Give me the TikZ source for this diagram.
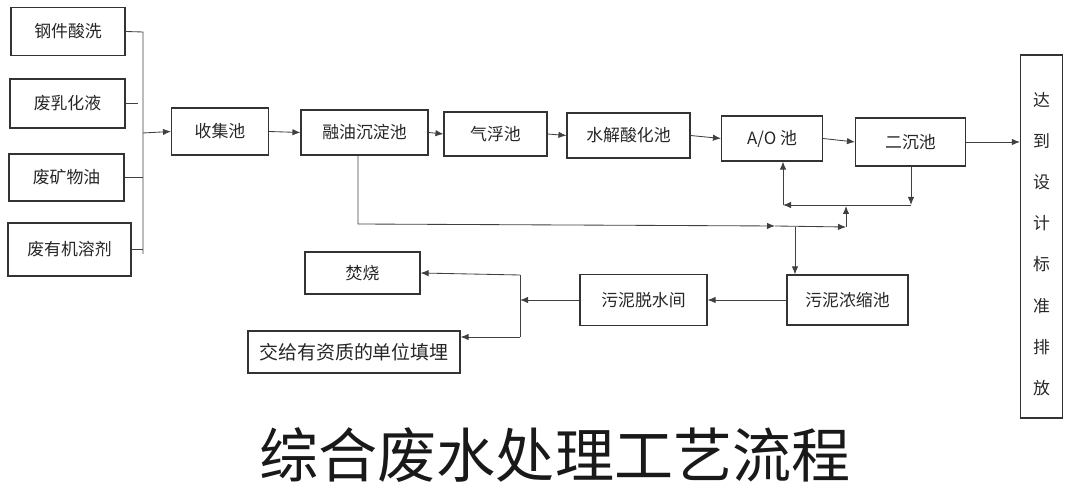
\documentclass[tikz,border=0pt]{standalone}
\usepackage{fontspec}
\setmainfont{Noto Sans CJK SC}
\usetikzlibrary{arrows.meta}
\usetikzlibrary{calc}

\begin{document}
\begin{tikzpicture}[x=0.025cm, y=-0.025cm]
    \tikzset{
        every node/.style={font=\fontsize{12}{14}\selectfont, text=black!85},
        box/.style={draw=black!80, line width=0.8pt, inner sep=0pt},
        wh/.style 2 args={minimum width=#1*0.025cm, minimum height=#2*0.025cm},
        flow/.style={draw=black!75, line width=0.6pt},
        arr/.style={flow, -{Latex[length=2mm, width=1.6mm]}}
    }
    \useasboundingbox (0,0) rectangle (1073,490);

    % draw waste water sources
    \node[box, wh={114}{48}] (gj) at (68,31.5) {钢件酸洗};
    \node[box, wh={115}{49}] (rh) at (67.5,103.5) {废乳化液};
    \node[box, wh={115}{47}] (kw) at (66.5,177.5) {废矿物油};
    \node[box, wh={123}{53}] (yj) at (69.5,249.5) {废有机溶剂};

    % draw collecting bus
    \coordinate (bt) at (143,32);
    \coordinate (bb) at (143,254);
    \coordinate (bm) at (143,133);
    \coordinate (rhe) at (138,103.5);
    \draw[flow] (gj.east) -- (bt) -- (bb);
    \draw[flow] (rh.east) -- (rhe);
    \draw[flow] (kw.east) -- (kw.east -| bt);
    \draw[flow] (yj.east) -- (yj.east -| bb);

    % draw main treatment line
    \node[box, wh={97}{47}] (sj) at (220,131.5) {收集池};
    \node[box, wh={127}{45}] (ry) at (364.5,132.5) {融油沉淀池};
    \node[box, wh={103}{44}] (qf) at (495.5,134) {气浮池};
    \node[box, wh={123}{45}] (sx) at (628.5,135.5) {水解酸化池};
    \node[box, wh={101}{45}] (ao) at (772,138.5) {A/O 池};
    \node[box, wh={110}{48}] (ec) at (910.5,142) {二沉池};
    \node[box, wh={42}{363}] (db) at (1041.5,236.5) {};
    \node[align=center, font=\fontsize{12}{29.3}\selectfont] (dbt) at (1041.5,244)
        {达\\到\\设\\计\\标\\准\\排\\放};

    \draw[arr] (bm) -- (sj.west);
    \draw[arr] (sj.east) -- (ry.west);
    \draw[arr] (ry.east) -- (qf.west);
    \draw[arr] (qf.east) -- (sx.west);
    \draw[arr] (sx.east) -- (ao.west);
    \draw[arr] (ao.east) -- (ec.west);
    \draw[arr] (ec.east) -- (ec.east -| db.west);

    % draw sludge treatment
    \node[box, wh={121}{50}] (nz) at (847.5,300) {污泥浓缩池};
    \node[box, wh={127}{51}] (ts) at (643.5,300) {污泥脱水间};
    \node[box, wh={115}{42}] (fs) at (362.5,273) {焚烧};
    \node[box, wh={212}{42}, font=\fontsize{13.5}{16}\selectfont] (tm) at (354,352) {交给有资质的单位填埋};

    % draw sludge return lines
    \coordinate (r1) at (358,224);
    \coordinate (r2) at (775,226);
    \coordinate (r3) at (846,227);
    \coordinate (r4) at (846,206);
    \coordinate (r5) at (783,205);
    \coordinate (r6) at (911,205);
    \coordinate (r7) at (795,227);
    \draw[arr] (ry.south -| r1) -- (r1) -- (r2);
    \draw[arr] (r2) -- (r3);
    \draw[arr] (r3) -- (r4);
    \draw[arr] (ec.south -| r6) -- (r6);
    \draw[arr] (r6) -- (r5);
    \draw[arr] (r5) -- (r5 |- ao.south);
    \draw[arr] (r7) -- (r7 |- nz.north);

    \coordinate (s1) at (520,300);
    \coordinate (s2) at (520,275);
    \coordinate (s3) at (520,337);
    \draw[arr] (nz.west) -- (ts.east);
    \draw[arr] (ts.west) -- (s1);
    \draw[flow] (s2) -- (s3);
    \draw[arr] (s2) -- (fs.east);
    \draw[arr] (s3) -- (s3 -| tm.east);

    % title
    \node[font=\fontsize{42}{48}\selectfont, text=black!90] (title) at (555,455) {综合废水处理工艺流程};

\end{tikzpicture}
\end{document}
